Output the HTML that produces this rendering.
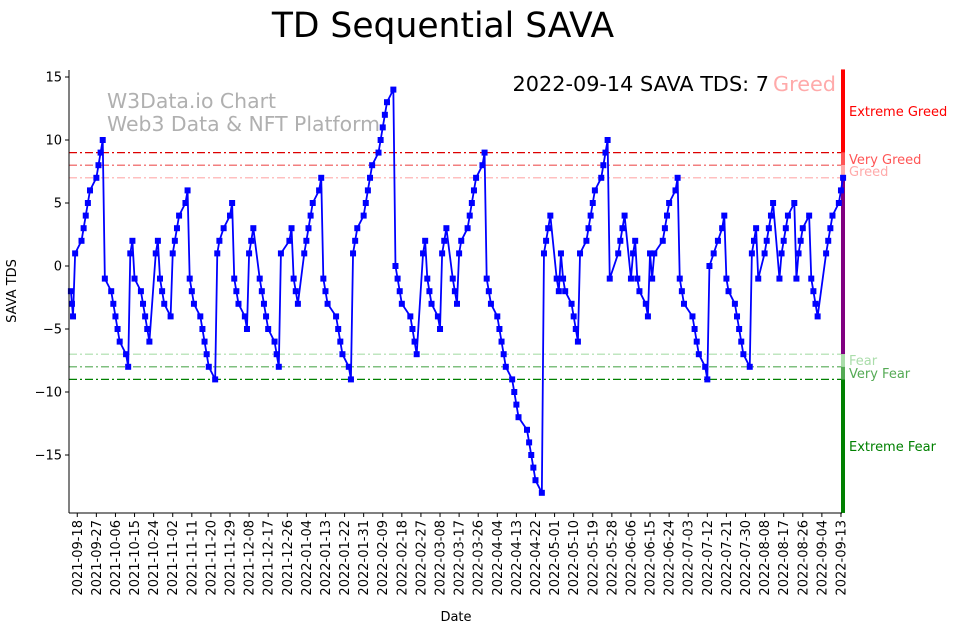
<!DOCTYPE html>
<html><head><meta charset="utf-8"><style>
html,body{margin:0;padding:0;background:#fff;}
svg{display:block;font-family:"DejaVu Sans","Liberation Sans",sans-serif;}
</style></head><body>
<svg id="chart" width="962" height="633" viewBox="0 0 962 633">
<text x="443" y="37" font-size="34.5" text-anchor="middle" fill="#000">TD Sequential SAVA</text>
<g>
<text x="107" y="108" font-size="20.4" fill="#b0b0b0">W3Data.io Chart</text>
<text x="107" y="131" font-size="20.4" fill="#b0b0b0">Web3 Data &amp; NFT Platform</text>
</g>
<text x="769" y="91" font-size="20.8" text-anchor="end" fill="#000">2022-09-14 SAVA TDS: 7</text>
<text x="773" y="91" font-size="20.8" fill="#ffaaaa">Greed</text>
<g id="refs"></g>
<g id="bar"></g>
<g id="series"></g>
<g id="axes"></g>
<text x="849" y="116" font-size="13" fill="#ff0000">Extreme Greed</text>
<text x="849" y="164" font-size="13" fill="#ff5555">Very Greed</text>
<text x="849" y="176" font-size="13" fill="#ffaaaa">Greed</text>
<text x="849" y="365" font-size="13" fill="#aaddaa">Fear</text>
<text x="849" y="378" font-size="13" fill="#55aa55">Very Fear</text>
<text x="849" y="451" font-size="13" fill="#008000">Extreme Fear</text>
<text x="16" y="291" font-size="13" text-anchor="middle" transform="rotate(-90 16 291)">SAVA TDS</text>
<text x="456" y="621" font-size="13" text-anchor="middle">Date</text>
</svg>
<script>
// data: day offsets from 2021-09-15 and TD sequential values
const dayOffsets = [0,0.5,1,2,5,6,7,8,9,12,13,14,15,16,19,20,21,22,23,26,27,28,29,30,33,34,35,36,37,40,41,42,43,44,47,48,49,50,51,54,55,56,57,58,
61,62,63,64,65,68,69,70,72,75,76,77,78,79,82,83,84,85,86,89,90,91,92,93,96,97,98,99,103,104,105,106,107,110,111,112,113,114,117,118,119,120,121,
125,126,127,128,131,132,133,134,135,138,139,140,141,142,145,146,147,148,149,152,153,154,155,156,160,161,162,163,166,167,168,169,170,173,174,175,176,177,180,181,182,
183,184,187,188,189,190,191,194,195,196,197,198,201,202,203,204,205,208,209,210,211,215,216,217,218,219,222,223,224,225,226,229,230,231,232,233,236,237,238,239,240,243,244,
245,246,247,250,251,252,253,254,258,259,260,261,264,265,266,267,268,271,272,273,274,275,279,280,281,282,285,286,287,288,289,293,294,295,296,299,300,301,303,305,
307,308,309,310,313,314,315,316,317,320,321,322,323,324,327,328,329,330,331,334,335,336,337,338,341,342,343,344,345,348,349,350,351,352,356,357,358,359,362,363,364];
const tdsValues = [-2,-3,-4,1,2,3,4,5,6,7,8,9,10,-1,-2,-3,-4,-5,-6,-7,-8,1,2,-1,-2,-3,-4,-5,-6,1,2,-1,-2,-3,-4,1,2,3,4,5,6,-1,-2,-3,
-4,-5,-6,-7,-8,-9,1,2,3,4,5,-1,-2,-3,-4,-5,1,2,3,-1,-2,-3,-4,-5,-6,-7,-8,1,2,3,-1,-2,-3,1,2,3,4,5,6,7,-1,-2,-3,
-4,-5,-6,-7,-8,-9,1,2,3,4,5,6,7,8,9,10,11,12,13,14,0,-1,-2,-3,-4,-5,-6,-7,1,2,-1,-2,-3,-4,-5,1,2,3,-1,-2,-3,
1,2,3,4,5,6,7,8,9,-1,-2,-3,-4,-5,-6,-7,-8,-9,-10,-11,-12,-13,-14,-15,-16,-17,-18,1,2,3,4,-1,-2,1,-1,-2,-3,-4,-5,-6,1,2,3,
4,5,6,7,8,9,10,-1,1,2,3,4,-1,1,2,-1,-2,-3,-4,1,-1,1,2,3,4,5,6,7,-1,-2,-3,-4,-5,-6,-7,-8,-9,0,1,2,
3,4,-1,-2,-3,-4,-5,-6,-7,-8,1,2,3,-1,1,2,3,4,5,-1,1,2,3,4,5,-1,1,2,3,4,-1,-2,-3,-4,1,2,3,4,5,6,7];
const yTicks = [15,10,5,0,-5,-10,-15];
const refLevels = [9,8,7,-7,-8,-9];
const refColors = ['#dd0000','#ee5555','#ffaaaa','#aaddaa','#55aa55','#008000'];
const tickStartDay = 3, tickStepDays = 9, tickCount = 41;

const NS='http://www.w3.org/2000/svg';
const X0=69, X1=842, Y0=70, Y1=513;
const xs = d => 70.9 + d*2.1214;
const ys = v => 266 - v*12.6;
function mk(tag, attrs, parent){const e=document.createElementNS(NS,tag);for(const k in attrs)e.setAttribute(k,attrs[k]);parent.appendChild(e);return e;}

const refs=document.getElementById('refs');
refLevels.forEach((lv,i)=>{
  const l=mk('line',{x1:X0,x2:X1,y1:ys(lv),y2:ys(lv),stroke:refColors[i],'stroke-width':1.2,'stroke-dasharray':'8 3 2 3'},refs);
  
  
});

const bar=document.getElementById('bar');
const bands=[[15.6,9,'#ff0000'],[9,8,'#ff5555'],[8,7,'#ffaaaa'],[7,-7,'#800080'],[-7,-8,'#aaddaa'],[-8,-9,'#55aa55'],[-9,-19.6,'#008000']];
bands.forEach((b,i)=>{
  const r=mk('rect',{x:841,y:ys(b[0]),width:4,height:ys(b[1])-ys(b[0]),fill:b[2]},bar);
  
  
});

const series=document.getElementById('series');
const pts=dayOffsets.map((d,i)=>xs(d).toFixed(2)+','+ys(tdsValues[i]).toFixed(2)).join(' ');
const pl=mk('polyline',{points:pts,fill:'none',stroke:'#0000ff','stroke-width':1.8,'stroke-linejoin':'round'},series);


dayOffsets.forEach((d,i)=>{
  const m=mk('rect',{x:xs(d)-3,y:ys(tdsValues[i])-3,width:6,height:6,fill:'#0000ff'},series);
  
  
});

const axes=document.getElementById('axes');
const ya=mk('line',{x1:X0,x2:X0,y1:Y0,y2:Y1,stroke:'#000','stroke-width':1},axes);


const xa=mk('line',{x1:X0,x2:X1,y1:Y1,y2:Y1,stroke:'#000','stroke-width':1},axes);


yTicks.forEach(v=>{
  const t=mk('line',{x1:X0-4,x2:X0,y1:ys(v),y2:ys(v),stroke:'#000'},axes);
  
  
  const tx=mk('text',{x:X0-7,y:ys(v)+4.5,'font-size':13,'text-anchor':'end'},axes);
  tx.textContent=(v<0?'\u2212'+(-v):''+v);
  
  
});
const base=Date.UTC(2021,8,15);
for(let k=0;k<tickCount;k++){
  const d=tickStartDay+k*tickStepDays;
  const x=xs(d);
  const t=mk('line',{x1:x,x2:x,y1:Y1,y2:Y1+4,stroke:'#000'},axes);
  
  
  const dt=new Date(base+d*86400000);
  const lab=dt.getUTCFullYear()+'-'+String(dt.getUTCMonth()+1).padStart(2,'0')+'-'+String(dt.getUTCDate()).padStart(2,'0');
  const tx=mk('text',{x:x+4.5,y:520,'font-size':13,'text-anchor':'end',transform:'rotate(-90 '+(x+4.5)+' 520)'},axes);
  tx.textContent=lab;
  
  
}
</script>
</body></html>
